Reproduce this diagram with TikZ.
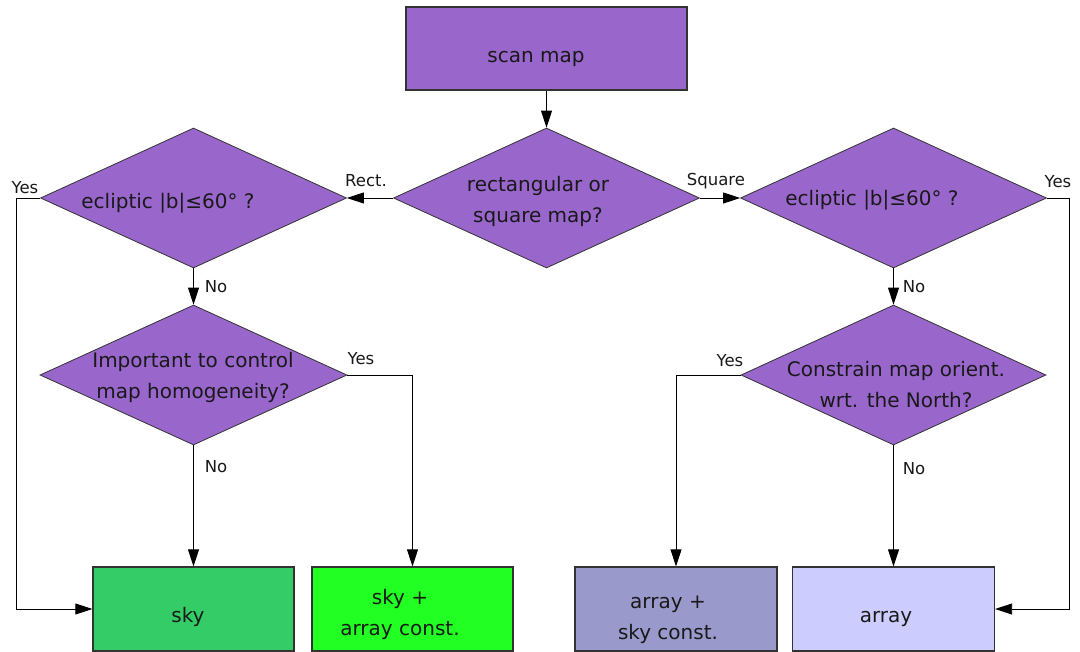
\documentclass[tikz,border=0pt]{standalone}
\usepackage{fontspec}
\setmainfont{DejaVu Sans}
\usetikzlibrary{shapes.geometric,arrows.meta}
\definecolor{purp}{HTML}{9966CC}
\definecolor{skyc}{HTML}{33CC66}
\definecolor{skyarr}{HTML}{22FF22}
\definecolor{arrsky}{HTML}{9999CC}
\definecolor{arrc}{HTML}{CCCCFF}
\definecolor{edge}{HTML}{333333}
\begin{document}
\begin{tikzpicture}[x=1pt,y=-1pt,
  box/.style={rectangle, draw=edge, line width=1.3pt, inner sep=0pt},
  dia/.style={diamond, draw=edge, line width=0.8pt, fill=purp, inner sep=0pt,
    minimum width=306pt, minimum height=140pt},
  txt/.style={font=\fontsize{20}{31}\selectfont, align=center, inner sep=0pt, text=black!90},
  lab/.style={font=\fontsize{16.5}{19}\selectfont, inner sep=0pt, anchor=base, text=black!90},
  conn/.style={draw=black, line width=0.9pt, -{Triangle[length=17pt,width=11pt]}},
  ln/.style={draw=black, line width=0.9pt}
]
\useasboundingbox (0,0) rectangle (1080,652);
\fill[white] (0,0) rectangle (1080,652);

% boxes
\node[box, fill=purp, minimum width=281pt, minimum height=83pt] (scan) at (546.5,48.5) {};
\node[box, fill=skyc, minimum width=201pt, minimum height=84pt] (sky) at (193.5,609) {};
\node[box, fill=skyarr, minimum width=201pt, minimum height=84pt] (sa) at (412.5,609) {};
\node[box, fill=arrsky, minimum width=202pt, minimum height=84pt] (as) at (676,609) {};
\node[box, fill=arrc, minimum width=202pt, minimum height=84pt] (arr) at (893.5,609) {};

% diamonds
\node[dia] (d2) at (546.5,198) {};
\node[dia] (d1) at (193.5,198) {};
\node[dia] (d3) at (893.5,198) {};
\node[dia, minimum width=307pt] (d4) at (193.5,375) {};
\node[dia, minimum width=305pt] (d5) at (893.5,375) {};

% texts
\node[txt, anchor=base] (scant) at (536,63) {scan map};
\node[txt] (d2t) at (538,201.3) {\strut rectangular or\strut\\\strut square map?\strut};
\node[txt, anchor=base] (d1t) at (168,209) {ecliptic |b|≤60° ?};
\node[txt, anchor=base] (d3t) at (872,206) {ecliptic |b|≤60° ?};
\node[txt] (d4t) at (193,377) {\strut Important to control\strut\\\strut map homogeneity?\strut};
\node[txt] (d5t) at (896,385.8) {\strut Constrain map orient.\strut\\\strut wrt. the North?\strut};
\node[txt, anchor=base] (skyt) at (188,622) {sky};
\node[txt] (sat) at (400,613.8) {\strut sky +\strut\\\strut array const.\strut};
\node[txt] (ast) at (668,617.8) {\strut array +\strut\\\strut sky const.\strut};
\node[txt, anchor=base] (arrt) at (886,622) {array};

% connectors
\draw[conn] (scan.south) -- (scan.south |- d2.north);
\draw[conn] (d2.west) -- (d1.east);
\draw[conn] (d2.east) -- (d3.west);
\draw[conn] (d1.south) -- (d4.north);
\draw[conn] (d3.south) -- (d5.north);
\draw[conn] (d1.west) -- ++(-24,0) |- (sky.west);
\draw[conn] (d3.east) -- ++(23,0) |- (arr.east);
\draw[conn] (d4.south) -- (sky.north);
\draw[conn] (d5.south) -- (arr.north);
\draw[conn] (d4.east) -| (sa.north);
\draw[conn] (d5.west) -| (as.north);

% labels
\node[lab] (l1) at (25,194) {Yes};
\node[lab] (l2) at (366,187) {Rect.};
\node[lab] (l3) at (716,186) {Square};
\node[lab] (l4) at (1058,188) {Yes};
\node[lab] (l5) at (216,293) {No};
\node[lab] (l6) at (361,365) {Yes};
\node[lab] (l7) at (216,473) {No};
\node[lab] (l8) at (914,293) {No};
\node[lab] (l9) at (730,367) {Yes};
\node[lab] (l10) at (914,475) {No};
\end{tikzpicture}
\end{document}
